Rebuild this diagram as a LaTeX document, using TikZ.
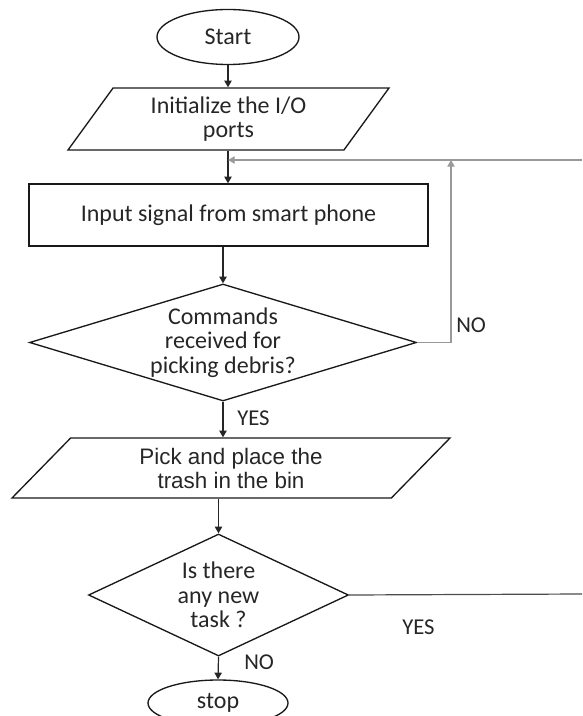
\documentclass[tikz,border=0pt]{standalone}
\usepackage{fontspec}
\setmainfont{Carlito}
\newfontfamily\arialfont{Liberation Sans}
\usetikzlibrary{shapes.geometric,arrows.meta}
\begin{document}
\begin{tikzpicture}[x=0.75pt,y=-0.75pt,
  shapeline/.style={draw=black!90, line width=1pt, inner sep=0pt, align=center,
    font=\fontsize{18}{18.4}\selectfont, text=black!85},
  terminal/.style={shapeline, ellipse},
  iobox/.style={shapeline, trapezium, trapezium stretches body},
  procbox/.style={shapeline, rectangle},
  decision/.style={shapeline, diamond},
  tip/.style={-{Triangle[width=5.5pt,length=5pt]}},
  flow/.style={draw=black!85, line width=0.9pt, tip},
  loopline/.style={draw=black!40, line width=0.9pt},
  plainline/.style={draw=black!70, line width=0.9pt},
  lbl/.style={font=\fontsize{17}{18}\selectfont, text=black!85, anchor=west, inner sep=0pt}
]
\useasboundingbox (0,0) rectangle (582,716);

% flowchart blocks
\node[terminal, minimum width=142*0.75pt, minimum height=55*0.75pt] (start) at (228,37) {Start};
\node[iobox, trapezium left angle=45, trapezium right angle=135,
      minimum width=321*0.75pt, minimum height=62*0.75pt] (init) at (228.5,119) {Initialize the I/O\\ports};
\node[procbox, minimum width=399*0.75pt, minimum height=62*0.75pt] (input) at (228.5,215) {Input signal from smart phone};
\node[decision, aspect=3.3, minimum width=387*0.75pt, minimum height=117*0.75pt] (cmd) at (223,342.5)
      {Commands\\received for\\picking debris?};
\node[iobox, trapezium left angle=34.6, trapezium right angle=145.4,
      minimum width=438*0.75pt, minimum height=60*0.75pt,
      font=\arialfont\fontsize{16.8}{18}\selectfont] (pick) at (231,468) {Pick and place the\\trash in the bin};
\node[decision, aspect=2.1, minimum width=260*0.75pt, minimum height=122*0.75pt] (task) at (218.5,595)
      {Is there\\any new\\task ?};
\node[terminal, minimum width=140*0.75pt, minimum height=46*0.75pt] (stop) at (218,703) {stop};

% loop-back points
\coordinate (fbIn) at (582,160);
\coordinate (fbJoin) at (228,160);
\coordinate (noTop) at (451,160);
\coordinate (yesOut) at (582,594);

% connectors
\draw[flow] (start.south) -- (start.south |- init.north);
\draw[flow] (init.south -| fbJoin) -- (input.north -| fbJoin);
\draw[loopline, tip] (fbIn) -- (fbJoin);
\draw[flow] (input.south -| cmd.north) -- (cmd.north);
\draw[loopline, tip] (cmd.east) -| (noTop);
\draw[flow] (cmd.south) -- (cmd.south |- pick.north);
\draw[flow] (pick.south -| task.north) -- (task.north);
\draw[flow] (task.south) -- (stop.north);
\draw[plainline] (task.east) -- (yesOut);

% branch labels
\node[lbl] (noA) at (456,325) {NO};
\node[lbl] (yesA) at (237,418) {YES};
\node[lbl] (yesB) at (402,627) {YES};
\node[lbl] (noB) at (244,662) {NO};
\end{tikzpicture}
\end{document}
